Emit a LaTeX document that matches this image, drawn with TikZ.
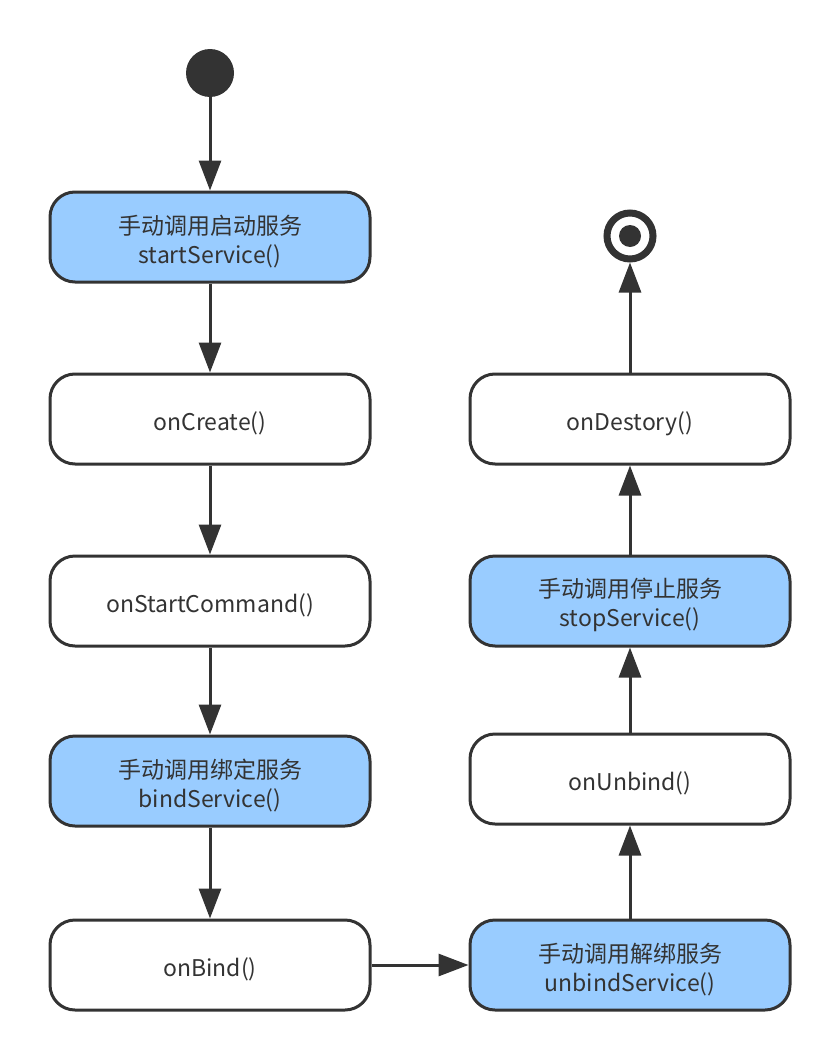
\documentclass[tikz,border=0pt]{standalone}
\usepackage{fontspec}
\setmainfont{Noto Sans CJK SC}
\usetikzlibrary{arrows.meta}
\definecolor{ink}{HTML}{333333}
\definecolor{bluefill}{HTML}{99CCFF}
\newcommand\lowr{\rule{0pt}{28pt}}
\begin{document}
\begin{tikzpicture}[x=1pt,y=-1pt,
  state/.style={draw=ink, line width=3pt, rounded corners=25pt, minimum width=320pt, minimum height=90pt, inner sep=0pt, align=center, text=ink, font=\fontsize{23pt}{29pt}\selectfont},
  hot/.style={state, fill=bluefill},
  plain/.style={state, fill=white},
  flow/.style={draw=ink, line width=3pt, -{Triangle[length=30pt,width=22pt]}}]
\useasboundingbox (0,0) rectangle (840,1060);
\node[circle, fill=ink, minimum size=48pt, inner sep=0pt] (start) at (210,73) {};
\node[hot] (s1) at (210,237) {\lowr 手动调用启动服务\\startService()};
\node[plain] (s2) at (210,419) {\lowr onCreate()};
\node[plain] (s3) at (210,601) {\lowr onStartCommand()};
\node[hot] (s4) at (210,781) {\lowr 手动调用绑定服务\\bindService()};
\node[plain] (s5) at (210,965) {\lowr onBind()};
\node[hot] (r1) at (630,965) {\lowr 手动调用解绑服务\\unbindService()};
\node[plain] (r2) at (630,779) {\lowr onUnbind()};
\node[hot] (r3) at (630,601) {\lowr 手动调用停止服务\\stopService()};
\node[plain] (r4) at (630,419) {\lowr onDestory()};
\node[circle, draw=ink, line width=7pt, fill=white, minimum size=46pt, inner sep=0pt] (end) at (630,236) {};
\node[circle, fill=ink, minimum size=22pt, inner sep=0pt] (enddot) at (630,236) {};
\draw[flow] (start) -- (s1);
\draw[flow] (s1) -- (s2);
\draw[flow] (s2) -- (s3);
\draw[flow] (s3) -- (s4);
\draw[flow] (s4) -- (s5);
\draw[flow] (s5) -- (r1);
\draw[flow] (r1) -- (r2);
\draw[flow] (r2) -- (r3);
\draw[flow] (r3) -- (r4);
\draw[flow] (r4) -- (end);
\end{tikzpicture}
\end{document}
